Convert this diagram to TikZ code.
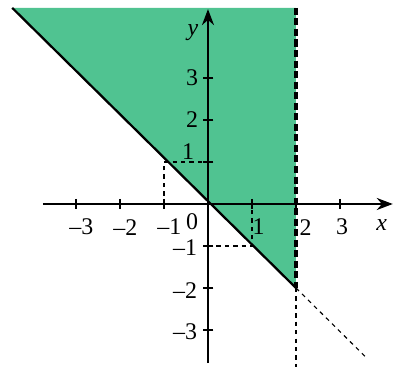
\documentclass[tikz,border=0pt]{standalone}
\usepackage{fontspec}
\setmainfont{Liberation Serif}
\usepackage{tikz}
\usetikzlibrary{arrows.meta}
\definecolor{regionfill}{RGB}{80,195,145}

\begin{document}
\begin{tikzpicture}[
        x=1.1cm, y=1.05cm,
        font=\fontsize{17}{19}\selectfont,
        axis/.style={line width=1.6pt, -{Stealth[length=4mm, width=3mm]}},
        bound/.style={line width=1.6pt},
        edge/.style={line width=2.6pt, dash pattern=on 5pt off 2.5pt},
        guide/.style={dashed, line width=0.8pt},
        tickmark/.style={line width=1pt},
    ]
    \useasboundingbox (-4.727,-3.881) rectangle (4.205,4.857);

    % ---- Points ----
    \coordinate (O) at (0,0);
    \coordinate (tl) at (-4.45,4.67);
    \coordinate (tr) at (2,4.67);
    \coordinate (P) at (2,-2);
    \coordinate (xb) at (2,-3.88);
    \coordinate (pe) at (3.61,-3.67);
    \coordinate (A) at (-1,1);
    \coordinate (Ax) at (-1,0);
    \coordinate (Ay) at (0,1);
    \coordinate (B) at (1,-1);
    \coordinate (Bx) at (1,0);
    \coordinate (By) at (0,-1);

    % ---- Region ----
    \fill[regionfill] (tl) -- (P) -- (tr) -- cycle;
    \draw[guide] (Ax) -- (A) -- (Ay);
    \draw[guide] (By) -- (B) -- (Bx);
    \draw[bound] (tl) -- (P);
    \draw[edge] (tr) -- (P);
    \draw[guide] (P) -- (xb);
    \draw[guide] (P) -- (pe);

    % ---- Axes ----
    \coordinate (xl) at (-3.75,0);
    \coordinate (xr) at (4.2,0);
    \coordinate (yb) at (0,-3.79);
    \coordinate (yt) at (0,4.64);
    \draw[axis] (xl) -- (xr);
    \draw[axis] (yb) -- (yt);

    \foreach \i in {-3,-2,-1,1,2,3} {
        \draw[tickmark] (\i,0.12) -- (\i,-0.12);
        \draw[tickmark] (0.12,\i) -- (-0.12,\i);
    }

    % ---- Labels ----
    \foreach \i/\t in {-3/--3,-2/--2,-1/--1} {
        \node (xl\i) at (\i+0.12,-0.55) {\t};
    }
    \node (xl1) at (1.15,-0.55) {1};
    \node (xl2) at (2.22,-0.55) {2};
    \node (xl3) at (3.05,-0.55) {3};
    \node (zero) at (-0.36,-0.43) {0};
    \node (xlab) at (3.95,-0.5) {\textit{x}};
    \node (ylab) at (-0.34,4.07) {\textit{y}};

    \foreach \j in {2,3} {
        \node (yl\j) at (-0.36,\j) {\j};
    }
    \node (yl1) at (-0.45,1.24) {1};
    \foreach \j/\t in {-1/--1,-2/--2,-3/--3} {
        \node (yl\j) at (-0.52,\j-0.05) {\t};
    }
\end{tikzpicture}
\end{document}
